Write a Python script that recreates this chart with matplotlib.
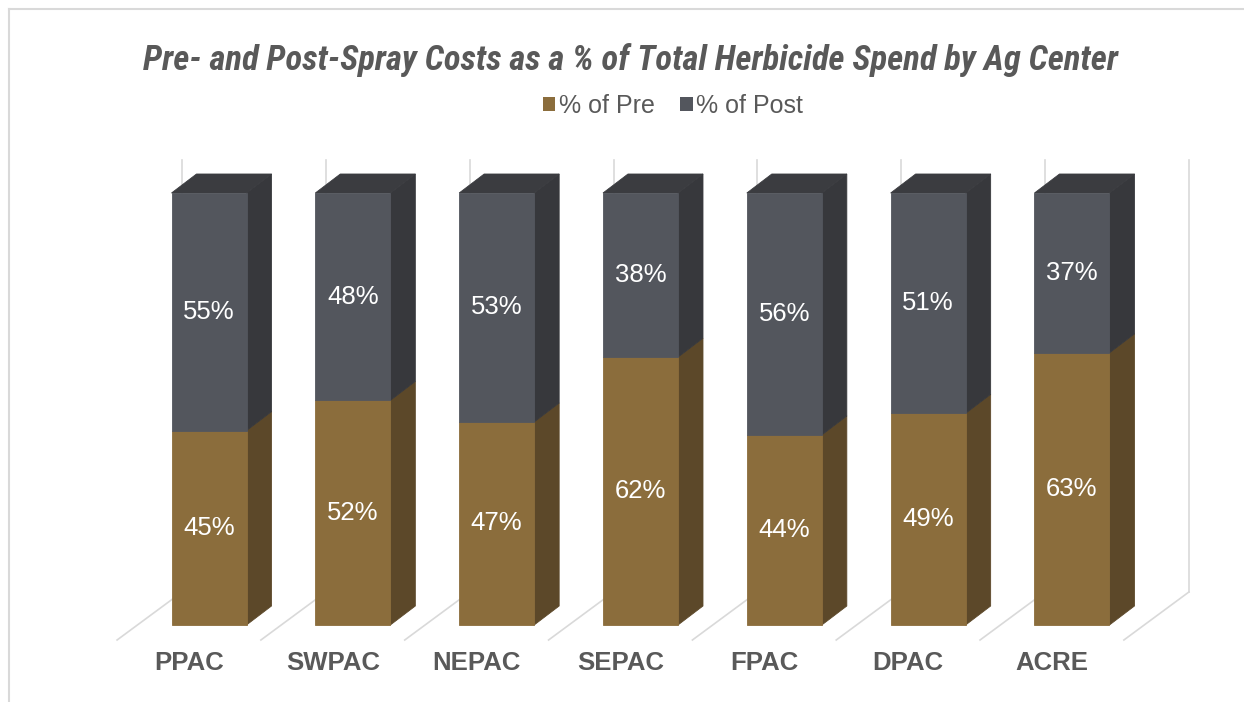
import matplotlib
matplotlib.use("Agg")
import matplotlib.pyplot as plt
from matplotlib.patches import Polygon, Patch
from matplotlib.lines import Line2D
from matplotlib import font_manager
import numpy as np

# ---------------- data ----------------
categories = ["PPAC", "SWPAC", "NEPAC", "SEPAC", "FPAC", "DPAC", "ACRE"]
pct_pre = [45, 52, 47, 62, 44, 49, 63]
pct_post = [55, 48, 53, 38, 56, 51, 37]
series_names = ["% of Pre", "% of Post"]
title = "Pre- and Post-Spray Costs as a % of Total Herbicide Spend by Ag Center"

# ---------------- style ----------------
W, H = 1244, 702
pre_front, pre_side = "#8B6D3C", "#5C4829"
post_front, post_side, post_top = "#53565D", "#37383C", "#3B3C40"
grid_col = "#D9D9D9"
text_col = "#595959"

# pick a condensed family for the title if one is installed
installed = {f.name for f in font_manager.fontManager.ttflist}
title_family = "Liberation Sans"
for cand in ["Liberation Sans Narrow", "Roboto Condensed", "Open Sans Condensed",
             "DejaVu Sans Condensed", "Noto Sans Condensed"]:
    if cand in installed:
        title_family = cand
        break

fig = plt.figure(figsize=(W / 100, H / 100), dpi=100)
ax = fig.add_axes([0, 0, 1, 1])
ax.set_axis_off()

# layout: pixel mapping of the category / value axes
x0_px, step_px = 209.0, 143.83
y0_px, per_pct_px = 625.0, 4.32
ax.set_xlim(-x0_px / step_px, (W - x0_px) / step_px)
ax.set_ylim((y0_px - H) / per_pct_px, y0_px / per_pct_px)

def dpx(dx_px, dy_px):
    """pixel offset (right, up) -> data offset"""
    return dx_px / step_px, dy_px / per_pct_px

bar_w = 75 / step_px
bdx, bdy = dpx(25, 19)        # bar depth
ffx, ffy = dpx(-20, -15)      # floor front relative to bar front
fbx, fby = dpx(45, 33)        # floor back (wall) relative to bar front

x = np.arange(len(categories))
top_val = 100

# back wall verticals and floor diagonals
for b in np.arange(len(categories) + 1) - 0.5:
    ax.plot([b + ffx, b + fbx], [ffy, fby], color=grid_col, lw=1.2, zorder=1)
    ax.plot([b + fbx, b + fbx], [fby, top_val + fby], color=grid_col, lw=1.2, zorder=1)

# front faces
pre = np.array(pct_pre)
post = np.array(pct_post)
ax.bar(x, pre, width=bar_w, color=pre_front, edgecolor=pre_front, lw=0.6, zorder=3)
ax.bar(x, post, bottom=pre, width=bar_w, color=post_front, edgecolor=post_front,
       lw=0.6, zorder=3)

# side and top faces
for xi, p, q in zip(x, pre, post):
    r = xi + bar_w / 2
    l = xi - bar_w / 2
    for b, t, c in [(0, p, pre_side), (p, p + q, post_side)]:
        ax.add_patch(Polygon([(r, b), (r + bdx, b + bdy), (r + bdx, t + bdy), (r, t)],
                             closed=True, facecolor=c, edgecolor=c, lw=0.6, zorder=2))
    tp = p + q
    ax.add_patch(Polygon([(l, tp), (l + bdx, tp + bdy), (r + bdx, tp + bdy), (r, tp)],
                         closed=True, facecolor=post_top, edgecolor=post_top, lw=0.6,
                         zorder=2))
    ax.text(xi, p / 2, f"{p}%", ha="center", va="center", color="white",
            fontsize=18.5, family="Liberation Sans", zorder=4)
    ax.text(xi, p + q / 2, f"{q}%", ha="center", va="center", color="white",
            fontsize=18.5, family="Liberation Sans", zorder=4)

# category labels
for xi, c in zip(x, categories):
    ax.text(xi + ffx, (y0_px - 663) / per_pct_px, c, ha="center", va="center",
            color=text_col, fontsize=18.5, fontweight="bold", family="Liberation Sans")

# title, sized so it spans the same width as in the reference
t = fig.text(630 / W, 1 - 60 / H, title, ha="center", va="center", color=text_col,
             fontsize=30, fontweight="bold", style="italic", family=title_family)
renderer = fig.canvas.get_renderer()
wpx = t.get_window_extent(renderer).width
t.set_fontsize(min(30, 30 * 975 / wpx))

# legend
handles = [Patch(facecolor=pre_front, edgecolor="none"),
           Patch(facecolor=post_front, edgecolor="none")]
leg = fig.legend(handles, series_names, ncol=2, loc="center",
                 bbox_to_anchor=(673 / W, 1 - 106 / H), frameon=False,
                 handlelength=0.5, handleheight=0.5, handletextpad=0.15,
                 columnspacing=1.0, prop={"family": "Liberation Sans", "size": 18})
for tx in leg.get_texts():
    tx.set_color(text_col)

# outer border (top and left visible)
fig.add_artist(Line2D([9 / W, 1], [1 - 9 / H, 1 - 9 / H], transform=fig.transFigure,
                      color=grid_col, lw=1.5))
fig.add_artist(Line2D([9 / W, 9 / W], [0, 1 - 9 / H], transform=fig.transFigure,
                      color=grid_col, lw=1.5))

fig.savefig("out.png", dpi=100, facecolor="white")
